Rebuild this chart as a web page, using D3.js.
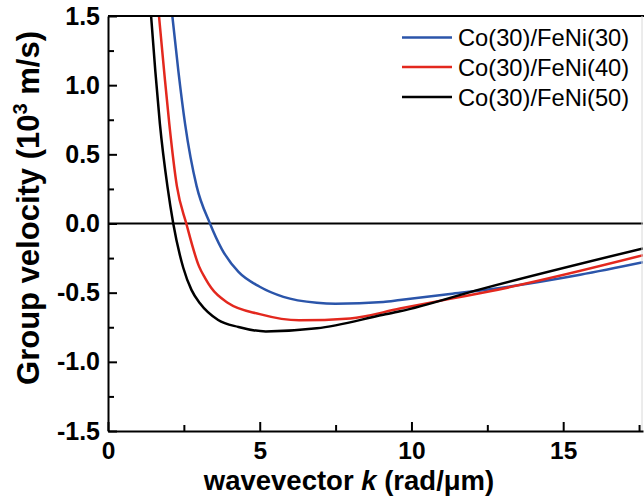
<!DOCTYPE html>
<html>
<head>
<meta charset="utf-8">
<script src="https://cdn.jsdelivr.net/npm/d3@7"></script>
<style>
  html, body { margin: 0; padding: 0; background: #fff; }
  svg { display: block; }
  text { font-family: "Liberation Sans", Arial, sans-serif; }
</style>
</head>
<body>
<svg id="chart" width="644" height="500"></svg>
<script>
// ---- data ----
const seriesNames = ["Co(30)/FeNi(30)", "Co(30)/FeNi(40)", "Co(30)/FeNi(50)"];
const seriesColors = ["#2b55aa", "#e3281e", "#000000"];

const blueK = [2.12, 2.32, 2.54, 2.92, 3.36, 3.75, 4.3, 5.0, 5.78, 6.88, 7.5, 9.07, 9.62, 11.27, 12.59, 15.56, 17.63];
const blueV = [1.5, 1.1, 0.72, 0.27, 0.0, -0.185, -0.35, -0.457, -0.53, -0.573, -0.58, -0.567, -0.553, -0.51, -0.475, -0.37, -0.28];

const redK = [1.68, 1.85, 2.02, 2.27, 2.58, 3.0, 3.2, 3.4, 3.97, 5.0, 6.3, 7.98, 9.62, 11.27, 12.59, 17.63];
const redV = [1.5, 1.1, 0.72, 0.27, 0.0, -0.31, -0.395, -0.465, -0.577, -0.655, -0.70, -0.686, -0.615, -0.545, -0.49, -0.23];

const blackK = [1.42, 1.56, 1.71, 1.96, 2.15, 2.48, 2.75, 3.03, 3.63, 4.3, 5.2, 6.88, 9.07, 9.62, 12.26, 17.63];
const blackV = [1.5, 1.1, 0.72, 0.266, 0.0, -0.32, -0.48, -0.577, -0.698, -0.748, -0.78, -0.758, -0.66, -0.635, -0.476, -0.18];

const xMajorTicks = [0, 5, 10, 15];
const xMinorTicks = [2.5, 7.5, 12.5, 17.5];
const yMajorTicks = [-1.5, -1.0, -0.5, 0.0, 0.5, 1.0, 1.5];
const yMinorTicks = [-1.25, -0.75, -0.25, 0.25, 0.75, 1.25];

const xDomain = [0, 17.63];
const yDomain = [-1.5, 1.5];

// ---- layout ----
const mLeft = 108, mRight = 643, mTop = 16, mBottom = 431;
const svg = d3.select("#chart");

const x = d3.scaleLinear().domain(xDomain).range([mLeft, mRight]);
const y = d3.scaleLinear().domain(yDomain).range([mBottom, mTop]);

svg.append("defs").append("clipPath").attr("id", "plotclip")
  .append("rect").attr("x", mLeft).attr("y", mTop)
  .attr("width", mRight - mLeft).attr("height", mBottom - mTop);

// zero line
svg.append("line")
  .attr("x1", mLeft).attr("x2", mRight)
  .attr("y1", y(0)).attr("y2", y(0))
  .attr("stroke", "#000").attr("stroke-width", 2);

// curves
const series = [
  { name: seriesNames[0], color: seriesColors[0], k: blueK, v: blueV },
  { name: seriesNames[1], color: seriesColors[1], k: redK, v: redV },
  { name: seriesNames[2], color: seriesColors[2], k: blackK, v: blackV }
];
const line = d3.line().x(d => x(d[0])).y(d => y(d[1])).curve(d3.curveMonotoneX);
const plot = svg.append("g").attr("clip-path", "url(#plotclip)");
series.forEach(s => {
  plot.append("path")
    .datum(s.k.map((k, i) => [k, s.v[i]]))
    .attr("d", line)
    .attr("fill", "none")
    .attr("stroke", s.color)
    .attr("stroke-width", 2.5);
});

// frame: top + faint right
svg.append("line").attr("x1", mLeft).attr("x2", 644).attr("y1", mTop).attr("y2", mTop)
  .attr("stroke", "#000").attr("stroke-width", 2);
svg.append("line").attr("x1", 642).attr("x2", 642).attr("y1", mTop).attr("y2", mBottom)
  .attr("stroke", "#d8d8d8").attr("stroke-width", 1);

// axes
const xAxis = svg.append("g").attr("transform", `translate(0,${mBottom})`)
  .call(d3.axisBottom(x).tickValues(xMajorTicks).tickSizeInner(-9).tickSizeOuter(0).tickPadding(11).tickFormat(d3.format("d")));
svg.append("g").attr("transform", `translate(0,${mBottom})`)
  .call(d3.axisBottom(x).tickValues(xMinorTicks).tickSizeInner(-6).tickSizeOuter(0).tickFormat(""))
  .select(".domain").remove();
const yAxis = svg.append("g").attr("transform", `translate(${mLeft},0)`)
  .call(d3.axisLeft(y).tickValues(yMajorTicks).tickSizeInner(-9).tickSizeOuter(0).tickPadding(8).tickFormat(d3.format(".1f")));
svg.append("g").attr("transform", `translate(${mLeft},0)`)
  .call(d3.axisLeft(y).tickValues(yMinorTicks).tickSizeInner(-6).tickSizeOuter(0).tickFormat(""))
  .select(".domain").remove();

svg.selectAll(".domain").attr("stroke", "#000").attr("stroke-width", 2);
svg.selectAll(".tick line").attr("stroke", "#000").attr("stroke-width", 2);
xAxis.selectAll(".tick text").attr("font-size", 24.5).attr("font-weight", "bold").attr("fill", "#000");
yAxis.selectAll(".tick text").attr("font-size", 25).attr("font-weight", "bold").attr("fill", "#000")
  .text(d => d3.format(".1f")(d).replace("\u2212", "-"));

// axis titles
const xt = svg.append("text").attr("x", 349).attr("y", 490)
  .attr("text-anchor", "middle").attr("font-size", 27.5).attr("font-weight", "bold");
xt.append("tspan").text("wavevector ");
xt.append("tspan").attr("font-style", "italic").text("k");
xt.append("tspan").text(" (rad/\u03bcm)");

const yt = svg.append("text").attr("transform", "translate(39,208) rotate(-90)")
  .attr("text-anchor", "middle").attr("font-size", 31).attr("font-weight", "bold");
yt.append("tspan").text("Group velocity (10");
yt.append("tspan").attr("font-size", 20).attr("dy", -12).text("3");
yt.append("tspan").attr("dy", 12).text(" m/s)");

// legend
const legendY = [37.5, 67, 97];
const lg = svg.append("g");
series.forEach((s, i) => {
  lg.append("line").attr("x1", 402).attr("x2", 452)
    .attr("y1", legendY[i]).attr("y2", legendY[i])
    .attr("stroke", s.color).attr("stroke-width", 2.5);
  lg.append("text").attr("x", 458).attr("y", legendY[i]).attr("dy", "0.36em")
    .attr("font-size", 23.7).attr("fill", "#000").text(s.name);
});
</script>
</body>
</html>
